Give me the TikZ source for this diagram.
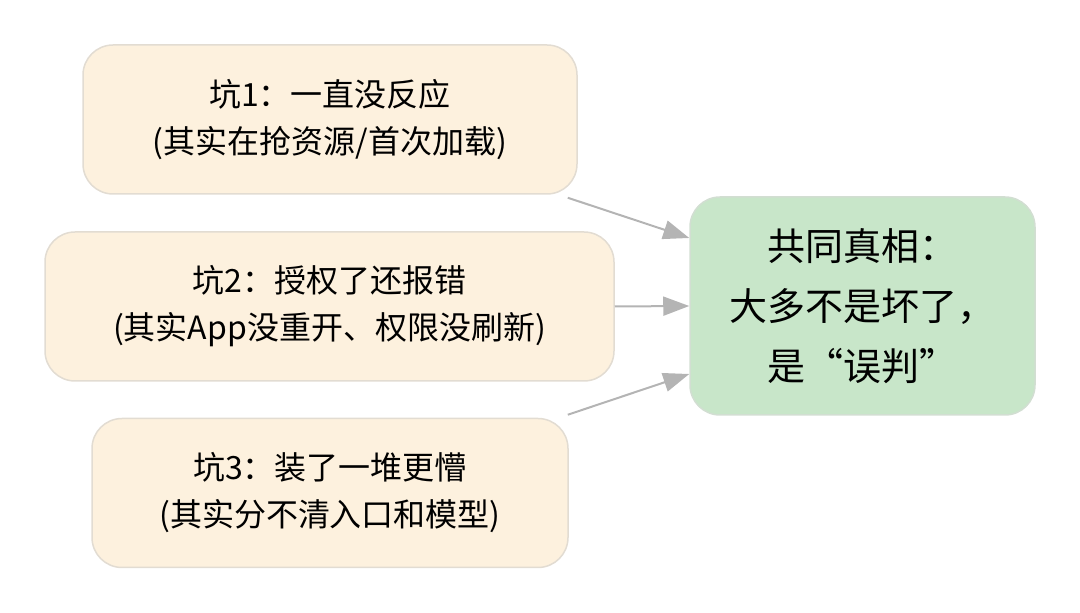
\documentclass[tikz,border=0pt]{standalone}
\usepackage{fontspec}
\setmainfont{Noto Sans CJK SC}
\usepackage{tikz}
\usetikzlibrary{arrows.meta}
\definecolor{pitfill}{RGB}{253,241,222}
\definecolor{pitline}{RGB}{226,220,210}
\definecolor{truthfill}{RGB}{200,230,201}
\definecolor{truthline}{RGB}{210,222,210}
\definecolor{linkcol}{RGB}{180,180,180}
\tikzset{
  pit/.style={draw=pitline,fill=pitfill,line width=1.5pt,rounded corners=30pt,align=center,
    minimum height=149pt,font=\fontsize{32}{47}\selectfont},
  truth/.style={draw=truthline,fill=truthfill,line width=1.5pt,rounded corners=30pt,align=center,
    minimum width=345pt,minimum height=218pt,font=\fontsize{38}{60}\selectfont},
  link/.style={draw=linkcol,line width=2pt,-{Triangle[length=26pt,width=19pt]}},
}
\begin{document}
\begin{tikzpicture}[x=1pt,y=1pt]
  \useasboundingbox (0,0) rectangle (1080,613);
  \node[pit,minimum width=494pt] (pit1) at (330,493.5) {坑1：一直没反应\\(其实在抢资源/首次加载)};
  \node[pit,minimum width=569pt] (pit2) at (329.5,306.5) {坑2：授权了还报错\\(其实App没重开、权限没刷新)};
  \node[pit,minimum width=476pt] (pit3) at (330,120) {坑3：装了一堆更懵\\(其实分不清入口和模型)};
  \node[truth] (truth) at (862.5,307) {共同真相：\\大多不是坏了，\\是“误判”};
  \draw[link] ([xshift=-10pt,yshift=-3pt]pit1.south east) -- ([yshift=68pt]truth.west);
  \draw[link] (pit2.east) -- (truth.west);
  \draw[link] ([xshift=-1pt,yshift=3pt]pit3.north east) -- ([yshift=-68pt]truth.west);
\end{tikzpicture}
\end{document}
